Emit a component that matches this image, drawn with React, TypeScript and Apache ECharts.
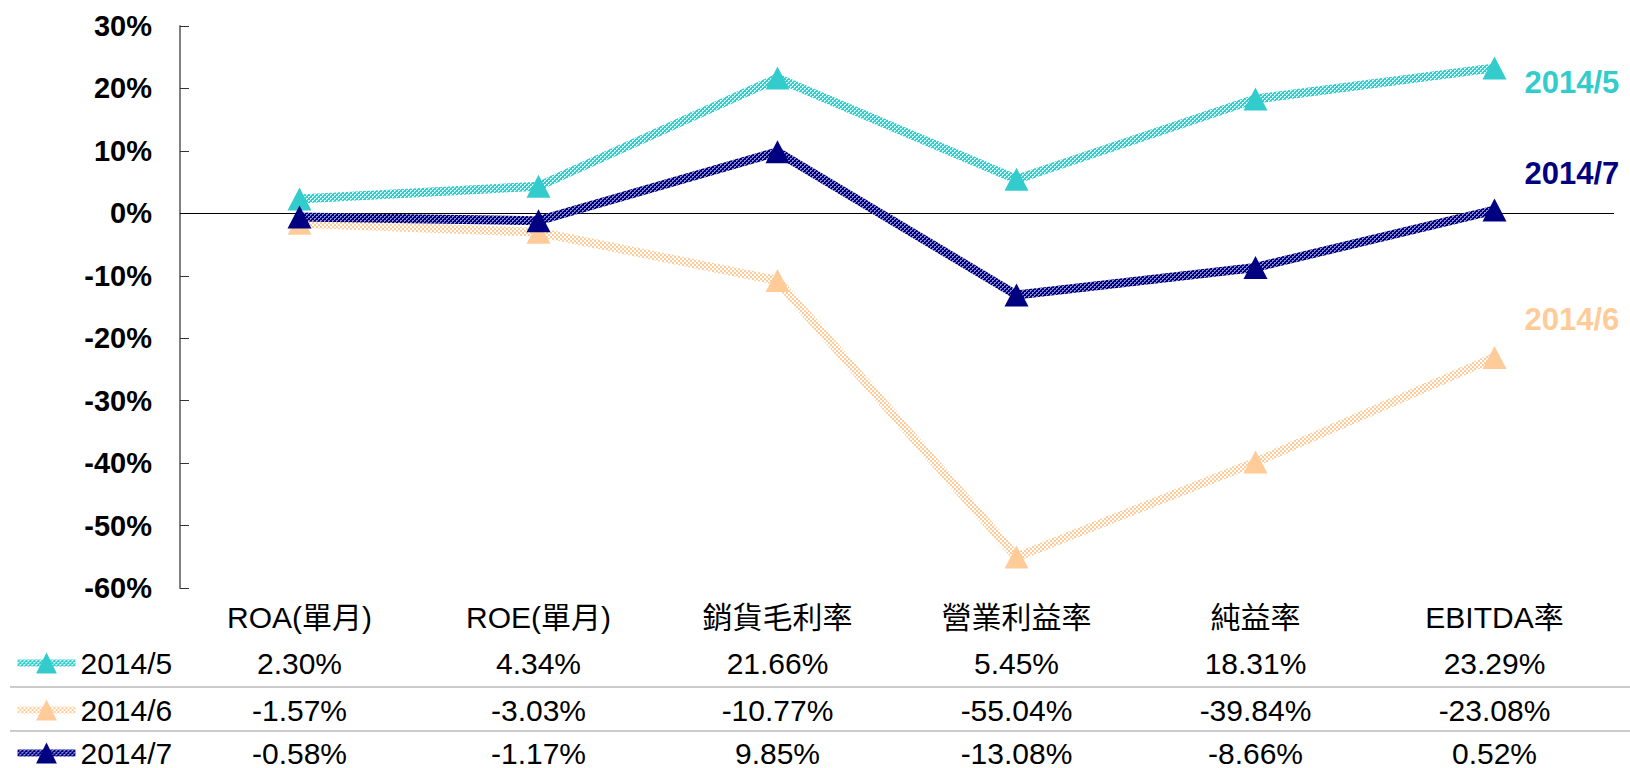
import React, { useEffect, useRef } from "react";
import * as echarts from "echarts";

const categories = ["ROA(單月)", "ROE(單月)", "銷貨毛利率", "營業利益率", "純益率", "EBITDA率"];
const seriesNames = ["2014/5", "2014/6", "2014/7"];
const may = [2.3, 4.34, 21.66, 5.45, 18.31, 23.29];
const jun = [-1.57, -3.03, -10.77, -55.04, -39.84, -23.08];
const jul = [-0.58, -1.17, 9.85, -13.08, -8.66, 0.52];
const yTicks = { min: -60, max: 30, interval: 10 };

const colors = ["#33CCCC", "#FFCC99", "#000080"];
const FONT = 'Arial, "Liberation Sans", "Noto Sans CJK TC", sans-serif';

function makePattern(color: string, dot: string, cells: number[][], size: number) {
  const c = document.createElement("canvas");
  c.width = size;
  c.height = size;
  const ctx = c.getContext("2d")!;
  ctx.fillStyle = color;
  ctx.fillRect(0, 0, size, size);
  ctx.fillStyle = dot;
  cells.forEach(([x, y]) => ctx.fillRect(x, y, 1, 1));
  return { image: c.toDataURL(), repeat: "repeat", imageWidth: size, imageHeight: size };
}

export default function App() {
  const ref = useRef<HTMLDivElement>(null);
  useEffect(() => {
    const chart = echarts.init(ref.current!, null, { renderer: "svg" });
    const dots = [[0, 0], [1, 0], [0, 1], [2, 2], [3, 2], [2, 3]];
    const checker = [[0, 0], [1, 0], [0, 1], [1, 1], [2, 2], [3, 2], [2, 3], [3, 3]];
    const patterns = [
      makePattern(colors[0], "#d8f6f6", dots, 4),
      makePattern(colors[1], "#ffffff", checker, 4),
      makePattern(colors[2], "#8c8cd0", dots, 4),
    ];
    const dataSets = [may, jun, jul];
    const endOffsets = [[22, 15], [22, -38], [22, -37]];
    const legendTops = [648, 695, 738];
    const fmt = (v: number) => v.toFixed(2) + "%";
    const tableAxis = (vals: number[], offset: number) => ({
      type: "category",
      data: vals.map(fmt),
      gridIndex: 0,
      position: "bottom",
      offset,
      axisLine: { show: false, onZero: false },
      axisTick: { show: false },
      axisLabel: { fontSize: 30, lineHeight: 30, color: "#000", margin: 14, fontFamily: FONT, interval: 0 },
    });
    chart.setOption({
      animation: false,
      textStyle: { fontFamily: FONT },
      grid: { left: 180, right: 16, top: 26, bottom: 180, containLabel: false },
      legend: seriesNames.map((n, i) => ({
        data: [n],
        orient: "vertical",
        left: 14,
        top: legendTops[i],
        padding: 0,
        itemWidth: 58,
        itemHeight: 26,
        itemGap: 0,
        selectedMode: false,
        lineStyle: { width: 7 },
        textStyle: { fontSize: 30, lineHeight: 30, color: "#000", fontFamily: FONT },
      })),
      xAxis: [
        {
          type: "category",
          data: categories,
          axisLine: { show: false, onZero: false },
          axisTick: { show: false },
          axisLabel: { fontSize: 30, lineHeight: 30, color: "#000", margin: 14, fontFamily: FONT, interval: 0 },
        },
        tableAxis(may, 46),
        tableAxis(jun, 93),
        tableAxis(jul, 136),
      ],
      yAxis: {
        type: "value",
        min: yTicks.min,
        max: yTicks.max,
        interval: yTicks.interval,
        axisLine: { show: true, lineStyle: { color: "#808080", width: 2 } },
        axisTick: { show: true, inside: true, length: 9, lineStyle: { color: "#333", width: 1 } },
        splitLine: { show: false },
        axisLabel: {
          formatter: "{value}%",
          fontSize: 29,
          fontWeight: "bold",
          color: "#000",
          margin: 28,
          fontFamily: FONT,
        },
      },
      graphic: [
        { type: "line", shape: { x1: 10, y1: 687, x2: 1630, y2: 687 }, style: { stroke: "#999", lineWidth: 1 }, silent: true },
        { type: "line", shape: { x1: 10, y1: 731, x2: 1630, y2: 731 }, style: { stroke: "#999", lineWidth: 1 }, silent: true },
      ],
      series: seriesNames.map((name, i) => ({
        name,
        type: "line",
        data: dataSets[i],
        symbol: "triangle",
        symbolSize: [24, 23],
        itemStyle: { color: colors[i] },
        lineStyle: { color: patterns[i], width: 9 },
        z: 2 + i,
        endLabel: {
          show: true,
          formatter: "{a}",
          color: colors[i],
          fontSize: 31,
          fontWeight: "bold",
          fontFamily: FONT,
          offset: endOffsets[i],
        },
        markLine:
          i === 0
            ? {
                silent: true,
                symbol: "none",
                label: { show: false },
                lineStyle: { color: "#000", width: 1, type: "solid" },
                data: [{ yAxis: 0 }],
                z: 1,
              }
            : undefined,
      })),
    });
    return () => chart.dispose();
  }, []);
  return <div ref={ref} style={{ width: 1630, height: 768, position: "absolute", left: 0, top: 0 }} />;
}
